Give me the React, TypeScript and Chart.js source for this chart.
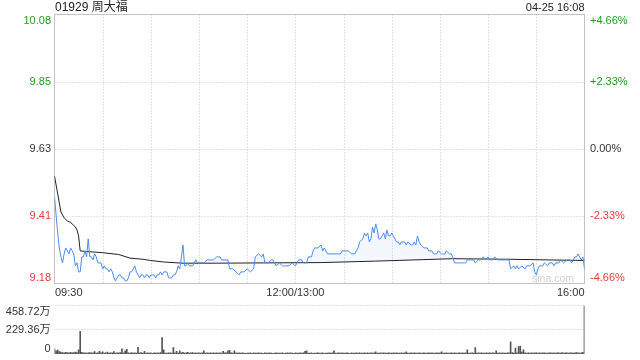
import React, { useEffect, useRef } from "react";
import { Chart, registerables } from "chart.js";

Chart.register(...registerables);

const stockTitle = "01929 周大福";
const stampText = "04-25 16:08";
const watermark = "sina.com";
const prevClose = 9.63;
const pctTicks = [-4.66, -2.33, 0, 2.33, 4.66];
const totalMinutes = 330;
const gridMinutes = [30, 60, 90, 120, 150, 180, 210, 240, 270, 300];
const timeLabels = ["09:30", "12:00/13:00", "16:00"];
const timeLabelMinutes = [0, 150, 330];

const priceMinutes = [
  0, 1, 2, 3, 4, 5, 6, 7, 8, 9, 10, 11, 12, 13, 14, 15, 16, 17, 18, 19,
  20, 21, 22, 23, 24, 25, 26, 27, 28, 29, 30, 31, 32, 33, 34, 35, 36, 37, 38, 39,
  40, 41, 42, 43, 44, 45, 46, 47, 48, 49, 50, 51, 52, 53, 54, 55, 56, 57, 58, 59,
  60, 61, 62, 63, 64, 65, 66, 67, 68, 69, 70, 71, 72, 73, 74, 75, 76, 77, 78, 79,
  80, 81, 82, 83, 84, 86, 88, 89, 91, 93, 95, 97, 99, 101, 103, 104, 106, 108, 109, 111,
  113, 115, 116, 118, 120, 122, 124, 125, 127, 129, 130, 131, 133, 135, 136, 138, 140, 142, 144, 146,
  148, 150, 152, 154, 155, 157, 158, 160, 161, 162, 164, 166, 167, 168, 170, 172, 174, 176, 178, 179,
  181, 183, 185, 187, 189, 190, 192, 193, 194, 195, 196, 197, 198, 199, 200, 201, 202, 203, 204, 205,
  206, 207, 208, 209, 210, 211, 212, 213, 214, 215, 216, 218, 219, 220, 222, 223, 224, 225, 226, 227,
  228, 230, 232, 233, 235, 236, 238, 239, 241, 243, 244, 246, 247, 248, 249, 250, 252, 254, 256, 257,
  259, 261, 262, 264, 265, 267, 268, 270, 271, 273, 274, 276, 278, 280, 282, 283, 284, 286, 287, 288,
  289, 291, 293, 294, 296, 298, 299, 300, 301, 302, 304, 305, 307, 308, 310, 311, 312, 314, 315, 317,
  319, 321, 322, 323, 324, 325, 326, 327, 328, 329, 330,
];
const priceValues = [
  9.47, 9.41, 9.35, 9.30, 9.27, 9.25, 9.28, 9.30, 9.29, 9.28, 9.30, 9.29, 9.28, 9.24, 9.25, 9.22, 9.22, 9.27, 9.27, 9.29,
  9.27, 9.33, 9.27, 9.27, 9.26, 9.28, 9.27, 9.25, 9.25, 9.25, 9.23, 9.24, 9.23, 9.23, 9.22, 9.23, 9.22, 9.20, 9.19, 9.20,
  9.21, 9.21, 9.20, 9.20, 9.19, 9.19, 9.20, 9.22, 9.22, 9.23, 9.24, 9.22, 9.21, 9.20, 9.21, 9.21, 9.20, 9.21, 9.21, 9.20,
  9.21, 9.21, 9.21, 9.20, 9.21, 9.21, 9.22, 9.21, 9.22, 9.22, 9.22, 9.20, 9.20, 9.20, 9.21, 9.21, 9.22, 9.24, 9.23, 9.27,
  9.31, 9.24, 9.24, 9.25, 9.24, 9.24, 9.26, 9.25, 9.25, 9.25, 9.26, 9.26, 9.26, 9.27, 9.27, 9.26, 9.26, 9.26, 9.23, 9.23,
  9.22, 9.21, 9.22, 9.22, 9.23, 9.22, 9.23, 9.27, 9.28, 9.27, 9.28, 9.25, 9.25, 9.26, 9.26, 9.24, 9.25, 9.24, 9.24, 9.24,
  9.25, 9.24, 9.26, 9.26, 9.25, 9.25, 9.27, 9.27, 9.29, 9.30, 9.30, 9.31, 9.29, 9.30, 9.28, 9.28, 9.28, 9.28, 9.28, 9.29,
  9.29, 9.29, 9.28, 9.28, 9.30, 9.32, 9.33, 9.35, 9.34, 9.35, 9.32, 9.33, 9.37, 9.35, 9.38, 9.36, 9.33, 9.33, 9.34, 9.35,
  9.33, 9.36, 9.34, 9.34, 9.35, 9.34, 9.33, 9.32, 9.32, 9.31, 9.32, 9.32, 9.31, 9.32, 9.31, 9.31, 9.32, 9.31, 9.34, 9.32,
  9.31, 9.30, 9.30, 9.29, 9.29, 9.28, 9.28, 9.29, 9.28, 9.28, 9.29, 9.28, 9.28, 9.27, 9.25, 9.25, 9.25, 9.25, 9.25, 9.26,
  9.26, 9.26, 9.25, 9.26, 9.26, 9.27, 9.26, 9.27, 9.26, 9.26, 9.27, 9.26, 9.26, 9.26, 9.26, 9.26, 9.23, 9.24, 9.23, 9.24,
  9.23, 9.24, 9.23, 9.24, 9.24, 9.25, 9.22, 9.21, 9.23, 9.24, 9.24, 9.25, 9.24, 9.25, 9.25, 9.24, 9.25, 9.25, 9.26, 9.25,
  9.26, 9.26, 9.25, 9.26, 9.27, 9.27, 9.28, 9.27, 9.26, 9.27, 9.23,
];

const avgMinutes = [0, 1, 2, 3, 4, 5, 6, 8, 10, 12, 13, 14, 15, 16, 20, 30, 40, 47, 55, 60, 68, 80, 100, 130, 166, 200, 230, 248, 284, 330];
const avgValues = [9.54, 9.51, 9.48, 9.45, 9.42, 9.41, 9.40, 9.39, 9.385, 9.375, 9.37, 9.36, 9.34, 9.29, 9.288, 9.284, 9.278, 9.266, 9.262, 9.258, 9.253, 9.249, 9.249, 9.25, 9.251, 9.256, 9.261, 9.264, 9.262, 9.258];

// volume per minute, in 万 shares
const volumes = [
  48, 30, 36, 22, 18, 14, 12, 15, 13, 11,
  16, 12, 14, 18, 13, 40, 215, 16, 10, 12,
  9, 11, 14, 12, 10, 24, 9, 12, 25, 11,
  20, 9, 10, 18, 8, 12, 11, 24, 9, 10,
  12, 14, 50, 11, 30, 45, 10, 9, 14, 8,
  12, 9, 62, 10, 13, 9, 25, 8, 11, 9,
  10, 7, 12, 9, 11, 8, 14, 155, 40, 9,
  8, 12, 10, 9, 60, 11, 25, 9, 30, 10,
  16, 8, 12, 15, 9, 10, 13, 8, 11, 9,
  10, 9, 12, 30, 8, 10, 9, 11, 8, 12,
  9, 10, 8, 12, 9, 25, 11, 10, 30, 35,
  12, 9, 30, 10, 8, 11, 9, 10, 8, 7,
  9, 8, 10, 7, 11, 8, 9, 10, 8, 9,
  7, 10, 8, 9, 11, 8, 7, 9, 10, 8,
  9, 8, 12, 7, 9, 10, 8, 11, 9, 7,
  10, 8, 9, 11, 8, 10, 25, 30, 9, 8,
  10, 7, 9, 8, 11, 9, 8, 10, 7, 9,
  8, 10, 9, 12, 30, 8, 9, 11, 8, 10,
  9, 8, 10, 9, 7, 11, 8, 9, 10, 8,
  11, 9, 8, 10, 9, 12, 8, 10, 9, 11,
  20, 8, 9, 10, 8, 11, 9, 8, 10, 9,
  8, 10, 9, 11, 8, 9, 10, 8, 12, 20,
  9, 8, 10, 9, 11, 8, 9, 10, 8, 9,
  10, 8, 9, 11, 8, 10, 9, 8, 10, 9,
  11, 20, 9, 8, 10, 9, 8, 11, 9, 10,
  8, 9, 10, 8, 11, 9, 10, 40, 8, 9,
  10, 8, 60, 9, 11, 8, 10, 9, 8, 10,
  9, 11, 8, 10, 9, 30, 8, 10, 9, 11,
  8, 9, 12, 10, 115, 14, 9, 55, 12, 70,
  75, 18, 40, 12, 9, 11, 8, 10, 9, 12,
  10, 8, 11, 9, 10, 12, 8, 9, 11, 10,
  9, 12, 8, 10, 11, 9, 13, 8, 10, 12,
  9, 11, 10, 8, 12, 14, 10, 9, 12, 15,
  458.72,
];

const UP = "#1f9f1f";
const DOWN = "#f03a3a";
const FLAT = "#333333";
const FONT = '"Liberation Sans", Arial, "Noto Sans CJK SC", sans-serif';
const CJK_FONT = '"Liberation Sans", Arial, "Noto Sans CJK SC", sans-serif';

const volMax = Math.max(...volumes);
const volTicks = [0, volMax / 2, volMax];

function dotted(ctx: CanvasRenderingContext2D) {
  ctx.strokeStyle = "#c8c8c8";
  ctx.lineWidth = 1;
  ctx.setLineDash([1, 2]);
}

const mainDecor = {
  id: "mainDecor",
  beforeDatasetsDraw(chart: any) {
    const { ctx, chartArea: a, scales } = chart;
    const x = scales.x;
    const y = scales.y;
    ctx.save();
    dotted(ctx);
    pctTicks.forEach((p, i) => {
      if (i === 0 || i === pctTicks.length - 1) return;
      const py = Math.round(y.getPixelForValue(prevClose * (1 + p / 100))) + 0.5;
      ctx.beginPath();
      ctx.moveTo(a.left, py);
      ctx.lineTo(a.right, py);
      ctx.stroke();
    });
    gridMinutes.forEach((m) => {
      const px = Math.round(x.getPixelForValue(m)) + 0.5;
      ctx.beginPath();
      ctx.moveTo(px, a.top);
      ctx.lineTo(px, a.bottom);
      ctx.stroke();
    });
    ctx.setLineDash([]);
    ctx.strokeStyle = "#c4c4c4";
    ctx.strokeRect(a.left, a.top, a.right - a.left, a.bottom - a.top);
    // watermark
    ctx.fillStyle = "#d2d2d2";
    ctx.font = "10.5px " + FONT;
    ctx.textAlign = "left";
    ctx.textBaseline = "middle";
    ctx.fillText(watermark, 532, 279);
    ctx.restore();
  },
  afterDraw(chart: any) {
    const { ctx, chartArea: a, scales } = chart;
    const x = scales.x;
    const y = scales.y;
    ctx.save();
    ctx.textBaseline = "middle";
    ctx.font = "11px " + FONT;
    pctTicks.forEach((p, i) => {
      const v = prevClose * (1 + p / 100);
      let py = y.getPixelForValue(v);
      if (i === pctTicks.length - 1) py += 6;
      if (i === 0) py -= 6;
      ctx.fillStyle = p > 0 ? UP : p < 0 ? DOWN : FLAT;
      ctx.textAlign = "right";
      ctx.fillText(v.toFixed(2), a.left - 3.5, py);
      ctx.textAlign = "left";
      ctx.fillText((p > 0 ? "+" : "") + p.toFixed(2) + "%", a.right + 5.5, py);
    });
    ctx.fillStyle = "#333";
    timeLabels.forEach((t, i) => {
      const px = x.getPixelForValue(timeLabelMinutes[i]);
      ctx.textAlign = i === 0 ? "left" : i === timeLabels.length - 1 ? "right" : "center";
      ctx.fillText(t, i === 0 ? px + 0.5 : px, 293);
    });
    ctx.font = "12px " + CJK_FONT;
    ctx.fillStyle = "#222";
    ctx.textAlign = "left";
    ctx.fillText(stockTitle, a.left + 0.5, 8);
    ctx.font = "11px " + FONT;
    ctx.textAlign = "right";
    ctx.fillText(stampText, a.right, 8);
    ctx.restore();
  },
};

const volDecor = {
  id: "volDecor",
  beforeDatasetsDraw(chart: any) {
    const { ctx, chartArea: a, scales } = chart;
    const y = scales.y;
    ctx.save();
    dotted(ctx);
    volTicks.forEach((v, i) => {
      if (i === 0) return;
      const py = Math.round(y.getPixelForValue(v) - 0.5) + 0.5;
      ctx.beginPath();
      ctx.moveTo(a.left, py);
      ctx.lineTo(a.right, py);
      ctx.stroke();
    });
    ctx.restore();
  },
  afterDraw(chart: any) {
    const { ctx, chartArea: a, scales } = chart;
    const y = scales.y;
    ctx.save();
    ctx.font = "11px " + CJK_FONT;
    ctx.fillStyle = "#333";
    ctx.textAlign = "right";
    ctx.textBaseline = "middle";
    volTicks.forEach((v, i) => {
      let py = y.getPixelForValue(v);
      if (i === volTicks.length - 1) py += 6.5;
      if (i === 0) py -= 5;
      ctx.fillText(v === 0 ? "0" : v.toFixed(2) + "万", a.left - 4, py);
    });
    ctx.restore();
  },
};

export default function App() {
  const mainRef = useRef<HTMLCanvasElement>(null);
  const volRef = useRef<HTMLCanvasElement>(null);

  useEffect(() => {
    document.body.style.margin = "0";
    const priceData = priceMinutes.map((m, i) => ({ x: m, y: priceValues[i] }));
    const avgData = avgMinutes.map((m, i) => ({ x: m, y: avgValues[i] }));
    const lo = prevClose * (1 + pctTicks[0] / 100);
    const hi = prevClose * (1 + pctTicks[pctTicks.length - 1] / 100);

    const main = new Chart(mainRef.current as HTMLCanvasElement, {
      type: "line",
      data: {
        datasets: [
          {
            data: priceData,
            borderColor: "#4d8cf0",
            borderWidth: 1,
            pointRadius: 0,
            tension: 0,
            fill: { target: 1, above: "rgba(74,138,244,0.06)", below: "rgba(74,138,244,0.0)" },
          },
          {
            data: avgData,
            borderColor: "#222222",
            borderWidth: 1,
            pointRadius: 0,
            tension: 0,
            fill: false,
          },
        ],
      },
      options: {
        animation: false,
        responsive: false,
        devicePixelRatio: 1,
        events: [],
        layout: { padding: { left: 54.5, right: 55.5, top: 14.5, bottom: 16.5 } },
        plugins: { legend: { display: false }, tooltip: { enabled: false } },
        scales: {
          x: { type: "linear", min: 0, max: totalMinutes, display: false },
          y: { type: "linear", min: lo, max: hi, display: false },
        },
      },
      plugins: [mainDecor],
    } as any);

    const vol = new Chart(volRef.current as HTMLCanvasElement, {
      type: "bar",
      data: {
        datasets: [
          {
            data: volumes.map((v, i) => ({ x: i, y: v })),
            backgroundColor: "#555555",
            barThickness: 1,
            borderWidth: 0,
          },
        ],
      },
      options: {
        animation: false,
        responsive: false,
        devicePixelRatio: 1,
        events: [],
        layout: { padding: { left: 54.5, right: 55.5, top: 5.5, bottom: 6 } },
        plugins: { legend: { display: false }, tooltip: { enabled: false } },
        scales: {
          x: { type: "linear", min: 0, max: totalMinutes, offset: false, display: false },
          y: { type: "linear", min: 0, max: volMax, display: false },
        },
      },
      plugins: [volDecor],
    } as any);

    return () => {
      main.destroy();
      vol.destroy();
    };
  }, []);

  return (
    <div style={{ position: "relative", width: 640, height: 360, background: "#fff" }}>
      <canvas ref={mainRef} width={640} height={300} style={{ position: "absolute", left: 0, top: 0 }} />
      <canvas ref={volRef} width={640} height={60} style={{ position: "absolute", left: 0, top: 300 }} />
    </div>
  );
}
